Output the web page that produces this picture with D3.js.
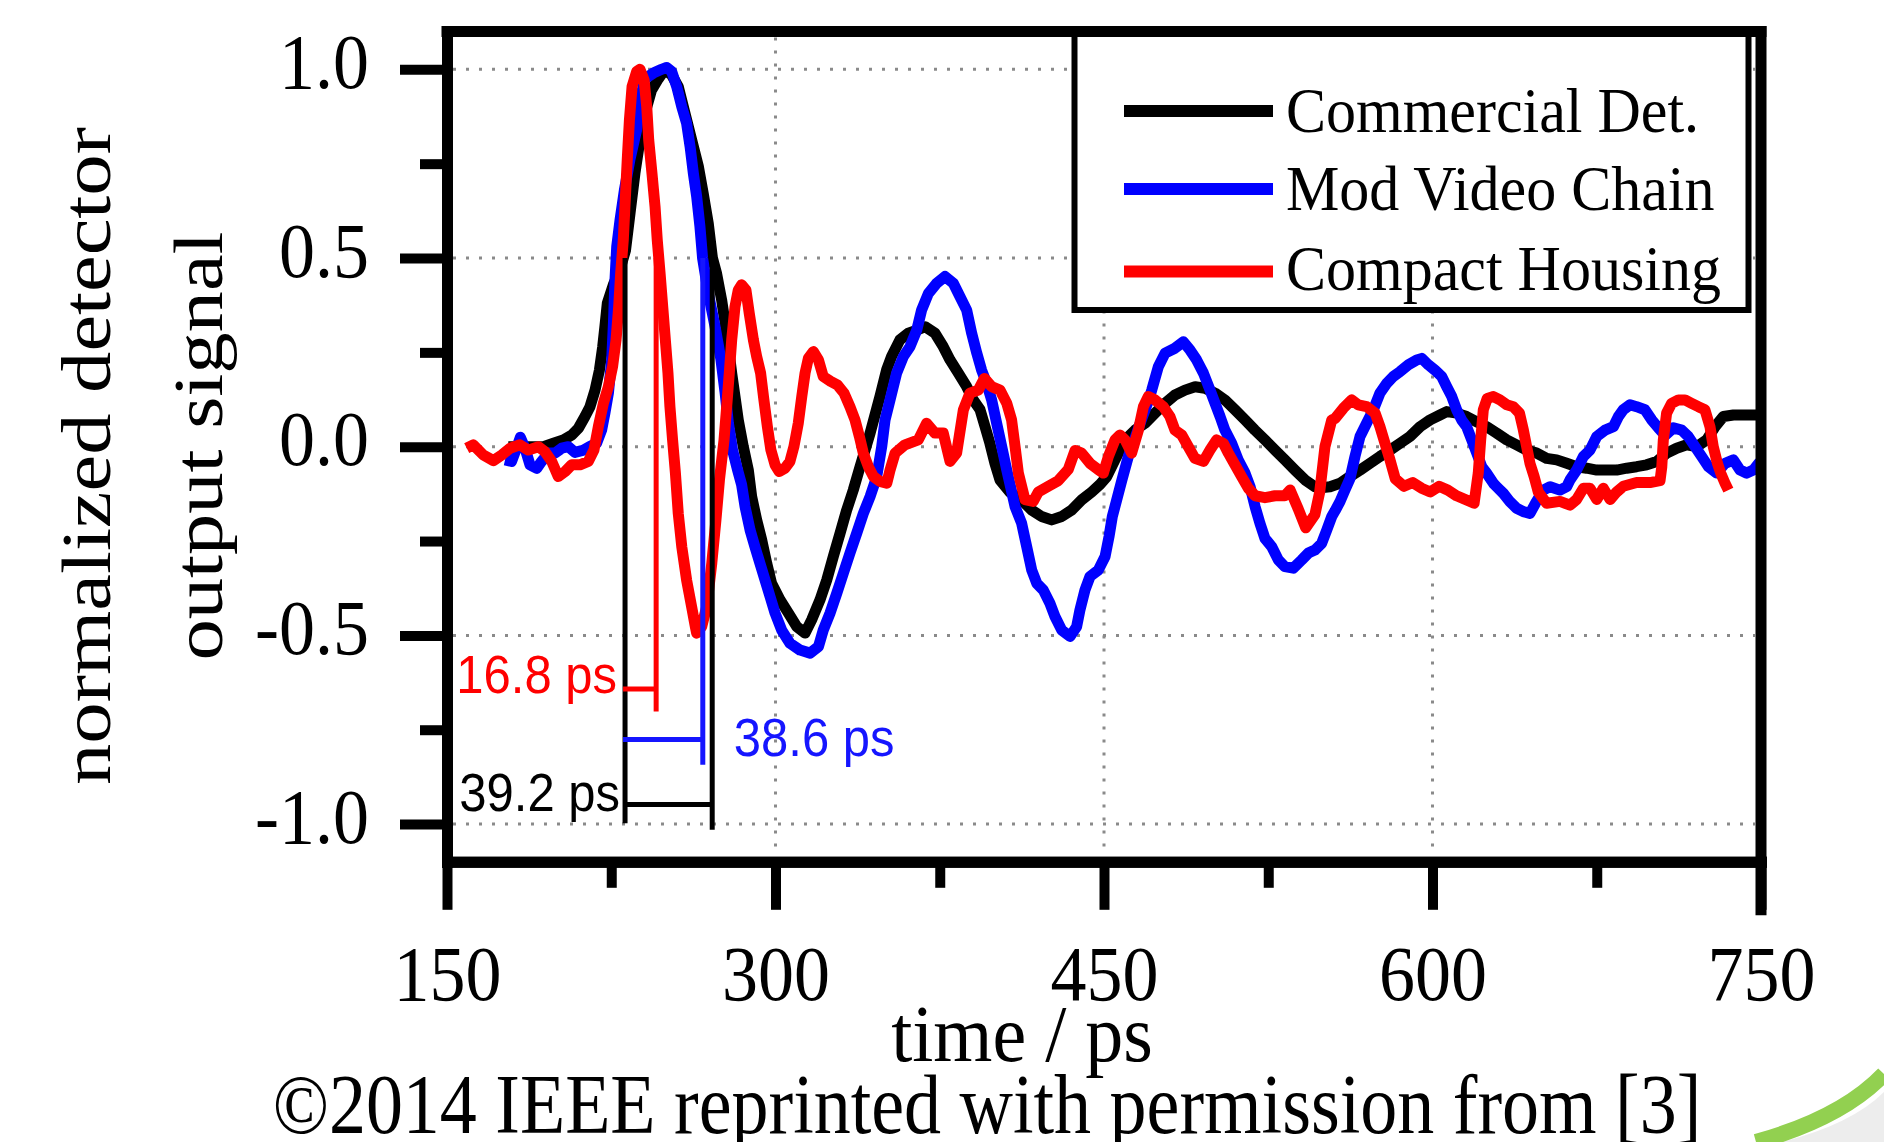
<!DOCTYPE html>
<html><head><meta charset="utf-8">
<script src="https://cdn.jsdelivr.net/npm/d3@7"></script>
<style>html,body{margin:0;padding:0;background:#fff;}svg{display:block;}</style>
</head><body>
<svg id="chart" width="1884" height="1142"></svg>
<script>
// ---------------- data (time in ps, normalized signal) ----------------
const commercialDet = [[178,0.0],[187,0.0],[194,0.0],[198.6,0.009],[203.1,0.018],[207,0.031],[210,0.049],[213,0.08],[215.3,0.106],[217.6,0.15],[219.6,0.203],[221.1,0.265],[222.1,0.318],[223.2,0.38],[226,0.43],[229,0.47],[231.5,0.52],[233.6,0.62],[235.8,0.724],[238.1,0.813],[240.4,0.883],[243.4,0.945],[246.5,0.975],[249.5,1.0],[252.6,0.985],[255.6,0.954],[257.9,0.901],[260.2,0.848],[262.5,0.795],[264.8,0.742],[267,0.671],[269.3,0.592],[271.2,0.5],[273.1,0.459],[275.4,0.389],[277,0.327],[278.5,0.265],[280,0.195],[281.5,0.133],[283,0.071],[285.3,0.0],[287.6,-0.062],[289.1,-0.132],[291.4,-0.194],[293.7,-0.247],[296,-0.309],[298.2,-0.362],[302.1,-0.406],[305.9,-0.441],[309.7,-0.477],[313.5,-0.494],[316.5,-0.459],[320.3,-0.406],[323.4,-0.353],[326.4,-0.291],[329.5,-0.229],[332.5,-0.168],[335.5,-0.115],[338.6,-0.053],[343.2,0.036],[347.7,0.133],[350.8,0.205],[353,0.239],[356.8,0.283],[360.7,0.301],[364.5,0.309],[368.3,0.318],[372.8,0.301],[376.6,0.265],[379.7,0.23],[383.5,0.195],[387.3,0.159],[390.3,0.124],[393.4,0.098],[395.7,0.053],[397.9,0.009],[400.2,-0.044],[402.5,-0.088],[407,-0.12],[413.9,-0.15],[417,-0.168],[421.5,-0.185],[426.1,-0.194],[430.7,-0.185],[435.2,-0.168],[439.8,-0.141],[444.4,-0.12],[448.2,-0.1],[451.2,-0.08],[455,-0.035],[459.6,0.018],[464.2,0.044],[468.7,0.062],[473.3,0.089],[477.9,0.115],[482.4,0.137],[487,0.15],[491.6,0.159],[496.1,0.155],[500.7,0.142],[505.2,0.124],[509.8,0.098],[514.4,0.071],[518.9,0.044],[523.5,0.018],[528.1,-0.009],[532.6,-0.035],[537.2,-0.062],[541.8,-0.088],[546.3,-0.106],[550,-0.108],[553.2,-0.106],[557.8,-0.097],[562.3,-0.079],[566.9,-0.062],[571.5,-0.044],[576,-0.026],[580.6,-0.009],[585.2,0.009],[589.7,0.027],[594.3,0.053],[598.9,0.071],[603.4,0.084],[606.5,0.093],[611,0.089],[615.6,0.08],[620.2,0.066],[624.7,0.053],[629.3,0.036],[633.9,0.018],[638.4,0.005],[643,-0.009],[647.6,-0.017],[652.1,-0.031],[656.7,-0.035],[661.3,-0.044],[665.8,-0.053],[670.4,-0.057],[675,-0.062],[679.5,-0.062],[684.1,-0.062],[688.7,-0.057],[693.2,-0.053],[697.8,-0.048],[702.4,-0.039],[707,-0.017],[711.5,-0.004],[716.1,0.005],[720.6,0.0],[725.2,0.018],[729,0.053],[732.8,0.08],[737.4,0.084],[742,0.084],[746.5,0.084],[750,0.084]];

const modVideoChain = [[176.5,-0.035],[179.5,-0.039],[182,0.0],[183.5,0.025],[185.6,-0.004],[187.9,-0.048],[191,-0.057],[193.2,-0.039],[196.3,-0.017],[199.3,-0.017],[202.4,-0.004],[205.4,0.0],[208.4,-0.015],[212,-0.01],[215,0.0],[218.3,0.009],[220.6,0.044],[222.1,0.089],[223.7,0.142],[225.2,0.23],[226,0.327],[226.7,0.442],[227.5,0.53],[229,0.6],[231,0.68],[233.5,0.76],[236.6,0.84],[238.1,0.919],[240.4,0.975],[244.2,0.99],[248,1.0],[250.3,1.005],[252.6,0.994],[254.9,0.954],[257.2,0.901],[259.4,0.857],[261,0.795],[262.5,0.724],[264,0.663],[265.5,0.583],[266.7,0.5],[269.3,0.407],[272.4,0.318],[275.1,0.23],[277,0.142],[278.5,0.062],[280.4,-0.009],[282.7,-0.062],[284.5,-0.1],[286.1,-0.159],[288.4,-0.221],[290.6,-0.265],[292.9,-0.309],[295.2,-0.353],[297.5,-0.397],[299.8,-0.441],[302.8,-0.486],[306.6,-0.521],[311.2,-0.539],[315.8,-0.547],[319.6,-0.53],[321.8,-0.486],[324.9,-0.441],[328,-0.388],[331,-0.335],[334,-0.282],[337.1,-0.229],[340.1,-0.177],[343.2,-0.132],[346.2,-0.08],[348.5,0.0],[350,0.07],[352.3,0.124],[355.3,0.195],[358.4,0.239],[361.4,0.265],[364.5,0.309],[366.7,0.362],[369.8,0.406],[373.6,0.433],[377.4,0.451],[381.2,0.433],[384.2,0.398],[387.3,0.362],[389.6,0.3],[391.9,0.248],[394.1,0.203],[396.4,0.168],[398.7,0.124],[401,0.062],[403.3,0.0],[405.6,-0.062],[407.5,-0.11],[409.4,-0.159],[412.4,-0.203],[414.7,-0.265],[417,-0.327],[419.3,-0.362],[422.3,-0.38],[425.3,-0.415],[427.6,-0.45],[430.7,-0.486],[434.5,-0.503],[437.5,-0.477],[439,-0.433],[441.3,-0.38],[443.6,-0.344],[447.4,-0.327],[450.5,-0.291],[452.3,-0.238],[453.8,-0.185],[455.8,-0.141],[458.1,-0.09],[461.1,-0.026],[464,0.02],[467,0.07],[470.2,0.12],[471.8,0.15],[474.8,0.212],[477.9,0.248],[482.4,0.261],[486.2,0.278],[489.3,0.256],[492.3,0.23],[495.4,0.195],[498.4,0.15],[500.7,0.115],[503,0.08],[505.2,0.044],[508.3,0.009],[511.3,-0.035],[514.4,-0.07],[516.7,-0.106],[519,-0.159],[521.2,-0.203],[523.5,-0.243],[526.6,-0.265],[529.6,-0.3],[532.6,-0.318],[536.4,-0.322],[540.3,-0.3],[543.3,-0.282],[546.3,-0.274],[549.4,-0.256],[551.7,-0.221],[554,-0.185],[555.5,-0.17],[557.8,-0.145],[560,-0.115],[562.3,-0.085],[564.6,-0.026],[566.9,0.027],[569.9,0.062],[573,0.098],[576,0.142],[579.1,0.168],[582.1,0.186],[585.2,0.199],[589,0.217],[592.8,0.23],[595.1,0.234],[598.1,0.217],[601.1,0.203],[604.2,0.186],[606.5,0.159],[608.8,0.133],[611,0.098],[613.3,0.071],[615.6,0.053],[617.9,0.018],[620.2,-0.017],[622.5,-0.053],[624.7,-0.07],[627.8,-0.097],[629.3,-0.106],[632.4,-0.124],[635.4,-0.146],[638.4,-0.163],[641.5,-0.172],[644.5,-0.177],[647,-0.15],[650.6,-0.115],[653.7,-0.106],[658.2,-0.115],[661.3,-0.106],[662.8,-0.088],[665.8,-0.062],[668.9,-0.026],[671.9,-0.009],[675,0.027],[678.8,0.044],[682.6,0.053],[684.9,0.08],[687.1,0.098],[690.2,0.111],[693.2,0.106],[697,0.098],[700.1,0.071],[703.1,0.05],[706.2,0.03],[710,0.05],[713.8,0.044],[716.8,0.027],[719.9,0.0],[722.9,-0.026],[726,-0.053],[729.8,-0.07],[733.6,-0.044],[737.4,-0.035],[740.4,-0.062],[743.5,-0.07],[746.5,-0.062],[749,-0.044],[750,-0.05]];

const compactHousing = [[159,-0.004],[162,0.005],[166.6,-0.022],[171.2,-0.037],[175,-0.022],[178.8,-0.004],[183.3,0.005],[187.1,-0.009],[191.7,0.0],[194.7,-0.013],[197.8,-0.039],[200.8,-0.079],[203.9,-0.066],[206.9,-0.048],[210.7,-0.048],[214.5,-0.039],[217.1,-0.009],[219.1,0.053],[221.4,0.115],[223.7,0.159],[225.6,0.212],[227.2,0.283],[228.4,0.371],[229.3,0.459],[230.5,0.548],[231.4,0.654],[232.3,0.76],[233.3,0.866],[234.5,0.954],[236.6,0.994],[238.1,1.0],[240,0.972],[241.2,0.901],[242.1,0.813],[243.6,0.724],[245,0.636],[246,0.548],[247.3,0.459],[248.5,0.371],[249.7,0.283],[250.9,0.195],[251.8,0.106],[253,0.018],[254.3,-0.07],[255.6,-0.177],[257.2,-0.265],[259.4,-0.353],[261.7,-0.424],[263.4,-0.477],[264,-0.494],[266.3,-0.477],[268.6,-0.424],[270.9,-0.309],[272.8,-0.194],[274.4,-0.088],[276.5,0.018],[277.7,0.106],[278.9,0.195],[280,0.283],[281.5,0.371],[283,0.415],[284.5,0.429],[286.5,0.415],[288,0.354],[289.9,0.283],[291.4,0.239],[293.2,0.195],[294.7,0.124],[296.3,0.053],[297.9,-0.009],[299.8,-0.048],[301.7,-0.066],[304.3,-0.057],[306.6,-0.039],[308.4,0.0],[310.4,0.062],[312,0.133],[313.5,0.195],[315,0.234],[317.3,0.252],[319.6,0.23],[321.8,0.186],[325.2,0.173],[328.2,0.164],[331.3,0.142],[334,0.106],[336.3,0.071],[338.3,0.027],[340.1,-0.017],[342.4,-0.053],[344.7,-0.079],[347.7,-0.092],[350.8,-0.097],[352.3,-0.062],[354.6,-0.017],[359.1,0.005],[365.2,0.018],[369,0.062],[372.8,0.036],[376.6,0.036],[379.7,-0.039],[382.7,-0.017],[385.8,0.098],[388.8,0.142],[392.6,0.15],[395.4,0.181],[398.7,0.159],[402.5,0.15],[405.6,0.115],[407.8,0.071],[409.4,0.0],[410.9,-0.07],[413.9,-0.14],[417.7,-0.145],[420,-0.12],[424.6,-0.105],[429.1,-0.09],[433.7,-0.06],[436.8,-0.01],[439.8,-0.017],[443.6,-0.044],[447.4,-0.061],[449.7,-0.07],[452,-0.026],[455,0.018],[457.3,0.031],[459.6,0.018],[462.6,-0.017],[465.7,0.044],[468,0.106],[470.2,0.133],[473.3,0.124],[477.1,0.106],[480.1,0.08],[482.4,0.044],[485.5,0.031],[488.5,0.0],[491.5,-0.031],[495.4,-0.039],[498.4,-0.009],[501.4,0.018],[504.5,0.009],[506.8,-0.017],[509.8,-0.048],[512.9,-0.08],[515.9,-0.11],[519,-0.13],[523.5,-0.135],[528.1,-0.13],[532.6,-0.13],[535,-0.115],[538.7,-0.165],[542.1,-0.215],[546.3,-0.18],[548.5,-0.12],[550.9,0.0],[554,0.071],[555.5,0.075],[559.3,0.102],[563.1,0.124],[566.1,0.111],[569.9,0.106],[573.8,0.089],[576,0.053],[578.3,0.009],[580.6,-0.035],[583,-0.085],[587,-0.105],[591,-0.095],[595,-0.11],[599,-0.12],[603,-0.105],[607,-0.115],[611,-0.13],[615,-0.14],[619,-0.15],[620.9,-0.07],[622,0.018],[623.2,0.098],[625,0.128],[627.8,0.133],[630.8,0.124],[633.9,0.111],[636.9,0.106],[639.7,0.089],[641.5,0.044],[643,0.0],[644.5,-0.044],[646.4,-0.079],[648.3,-0.12],[652.1,-0.15],[658.2,-0.145],[662.8,-0.155],[665.8,-0.14],[668.9,-0.11],[671.9,-0.11],[675,-0.14],[678,-0.11],[681.1,-0.14],[684.1,-0.12],[687.1,-0.105],[693.2,-0.095],[699.3,-0.095],[703.9,-0.09],[704.7,-0.053],[705.4,0.018],[706.9,0.089],[709.2,0.115],[712.3,0.124],[715.3,0.124],[718.3,0.115],[721.4,0.106],[724.4,0.098],[726.7,0.053],[728.2,0.0],[730.1,-0.044],[731.6,-0.07],[733.6,-0.097],[735.1,-0.115]];

const seriesNames  = ["Commercial Det.", "Mod Video Chain", "Compact Housing"];
const seriesColors = ["#000000", "#0000ff", "#ff0000"];
const seriesData   = [commercialDet, modVideoChain, compactHousing];

const xTicks = [150, 300, 450, 600, 750];
const xMinorTicks = [225, 375, 525, 675];
const yTicks = [-1.0, -0.5, 0.0, 0.5, 1.0];
const yTickLabels = ["-1.0", "-0.5", "0.0", "0.5", "1.0"];
const yMinorTicks = [-0.75, -0.25, 0.25, 0.75];

// FWHM markers: start time, end time, bar level, bottom of end line
const fwhmLabels = ["16.8 ps", "38.6 ps", "39.2 ps"];
const fwhmColors = ["#ff0000", "#1515ff", "#000000"];
const fwhmStart  = [231.3, 231.3, 231.3];
const fwhmEnd    = [245.5, 266.8, 271.1];
const fwhmBar    = [-0.642, -0.776, -0.948];
const fwhmBottom = [-0.702, -0.843, -1.015];
const fwhmTop = 0.5;

// ---------------- layout ----------------
const svg = d3.select("#chart");
const X = d3.scaleLinear().domain([150, 750]).range([447, 1761]);
const Y = d3.scaleLinear().domain([-1.1, 1.1]).range([861.8, 31.6]);
const serif = "'Liberation Serif','Times New Roman',Times,serif";
const sans = "'Liberation Sans',Arial,Helvetica,sans-serif";

svg.append("rect").attr("width", 1884).attr("height", 1142).attr("fill", "#fff");

// slide decoration (bottom-right corner)
svg.append("path").attr("d", "M1782,1142 Q1852,1124 1884,1092 L1884,1142 Z").attr("fill", "#ededed");
svg.append("path").attr("d", "M1756,1142 Q1842,1118 1884,1074").attr("fill", "none")
  .attr("stroke", "#92d050").attr("stroke-width", 16);

// grid
const grid = svg.append("g").attr("stroke", "#8a8a8a").attr("stroke-width", 3).attr("stroke-dasharray", "3,10");
grid.selectAll("line.h").data(yTicks).join("line")
  .attr("x1", X(150) + 6).attr("x2", X(750) - 6).attr("y1", d => Y(d)).attr("y2", d => Y(d));
grid.selectAll("line.v").data([300, 450, 600]).join("line")
  .attr("x1", d => X(d)).attr("x2", d => X(d)).attr("y1", Y(1.1) + 6).attr("y2", Y(-1.1) - 6);

// curves
svg.append("clipPath").attr("id", "plotclip").append("rect")
  .attr("x", X(150) + 5).attr("y", Y(1.1) + 5).attr("width", X(750) - X(150) - 10).attr("height", Y(-1.1) - Y(1.1) - 10);
const line = d3.line().x(d => X(d[0])).y(d => Y(d[1]));
const curves = svg.append("g").attr("clip-path", "url(#plotclip)");
seriesData.forEach((s, i) => {
  curves.append("path").datum(s).attr("d", line).attr("fill", "none")
    .attr("stroke", seriesColors[i]).attr("stroke-width", 11)
    .attr("stroke-linejoin", "round").attr("stroke-linecap", "butt");
});

// FWHM annotations
const ann = svg.append("g").attr("stroke-width", 5).attr("fill", "none");
ann.append("line").attr("stroke", "#000")
  .attr("x1", X(fwhmStart[2])).attr("x2", X(fwhmStart[2])).attr("y1", Y(fwhmTop)).attr("y2", Y(-0.998));
fwhmLabels.forEach((lab, i) => {
  ann.append("line").attr("stroke", fwhmColors[i])
    .attr("x1", X(fwhmEnd[i])).attr("x2", X(fwhmEnd[i])).attr("y1", Y(fwhmTop)).attr("y2", Y(fwhmBottom[i]));
  ann.append("line").attr("stroke", fwhmColors[i])
    .attr("x1", X(fwhmStart[i]) - 2).attr("x2", X(fwhmEnd[i])).attr("y1", Y(fwhmBar[i])).attr("y2", Y(fwhmBar[i]));
});
function stretchText(parent, x, y, sy, str) {
  return parent.append("text").attr("transform", `translate(${x},${y}) scale(1,${sy})`).text(str);
}
const annText = svg.append("g").attr("font-family", sans).attr("font-size", 49);
stretchText(annText, X(fwhmStart[0]) - 8, Y(fwhmBar[0]) + 4, 1.08, fwhmLabels[0]).attr("text-anchor", "end").attr("fill", fwhmColors[0]);
stretchText(annText, X(fwhmEnd[1]) + 31, Y(fwhmBar[1]) + 16, 1.08, fwhmLabels[1]).attr("text-anchor", "start").attr("fill", fwhmColors[1]);
stretchText(annText, X(fwhmStart[2]) - 5, Y(fwhmBar[2]) + 7, 1.08, fwhmLabels[2]).attr("text-anchor", "end").attr("fill", fwhmColors[2]);

// axes
const xAxis = svg.append("g").attr("transform", `translate(0,${Y(-1.1)})`)
  .call(d3.axisBottom(X).tickValues(xTicks).tickSize(48).tickSizeOuter(0).tickFormat(d3.format("d")));
const xMinor = svg.append("g").attr("transform", `translate(0,${Y(-1.1)})`)
  .call(d3.axisBottom(X).tickValues(xMinorTicks).tickSize(26).tickSizeOuter(0).tickFormat(""));
const yAxis = svg.append("g").attr("transform", `translate(${X(150)},0)`)
  .call(d3.axisLeft(Y).tickValues(yTicks).tickSize(47).tickSizeOuter(0).tickFormat((d, i) => yTickLabels[i]));
const yMinor = svg.append("g").attr("transform", `translate(${X(150)},0)`)
  .call(d3.axisLeft(Y).tickValues(yMinorTicks).tickSize(27).tickSizeOuter(0).tickFormat(""));
[xAxis, xMinor, yAxis, yMinor].forEach(g => {
  g.selectAll(".tick line").attr("stroke", "#000").attr("stroke-width", 10);
  g.select(".domain").attr("stroke", "#000").attr("stroke-width", 11).attr("stroke-linecap", "square");
});
xAxis.selectAll(".tick text").attr("y", null).attr("dy", null)
  .attr("transform", "translate(0,138) scale(1,1.1)")
  .attr("font-family", serif).attr("font-size", 72).attr("fill", "#000").attr("text-anchor", "middle");
yAxis.selectAll(".tick text").attr("x", null).attr("dy", null)
  .attr("transform", "translate(-78,18) scale(1,1.1)")
  .attr("font-family", serif).attr("font-size", 72).attr("fill", "#000").attr("text-anchor", "end");

// remaining frame: top and right
const frame = svg.append("g").attr("stroke", "#000").attr("stroke-width", 11).attr("stroke-linecap", "square");
frame.append("line").attr("x1", X(150)).attr("x2", X(750)).attr("y1", Y(1.1)).attr("y2", Y(1.1));
frame.append("line").attr("x1", X(750)).attr("x2", X(750)).attr("y1", Y(1.1)).attr("y2", Y(-1.1) + 48);

// legend
const leg = svg.append("g");
leg.append("rect").attr("x", 1074.5).attr("y", Y(1.1)).attr("width", 674).attr("height", 310 - Y(1.1))
  .attr("fill", "#fff").attr("stroke", "#000").attr("stroke-width", 6);
const legLineY = [111, 189, 271.5];
const legTextY = [132, 210, 290];
seriesNames.forEach((n, i) => {
  leg.append("line").attr("x1", 1124).attr("x2", 1273).attr("y1", legLineY[i]).attr("y2", legLineY[i])
    .attr("stroke", seriesColors[i]).attr("stroke-width", 12);
  stretchText(leg, 1286, legTextY[i], 1.06, n).attr("font-family", serif).attr("font-size", 60).attr("fill", "#000");
});
frame.raise();

// axis titles
stretchText(svg, 1022, 1061, 1.05, "time / ps").attr("font-family", serif).attr("font-size", 76)
  .attr("text-anchor", "middle").attr("fill", "#000");
svg.append("text").attr("transform", "translate(110,456) scale(1,1.18) rotate(-90)")
  .attr("font-family", serif).attr("font-size", 70).attr("text-anchor", "middle").attr("fill", "#000")
  .text("normalized detector");
svg.append("text").attr("transform", "translate(222,446) scale(1,1.18) rotate(-90)")
  .attr("font-family", serif).attr("font-size", 70).attr("text-anchor", "middle").attr("fill", "#000")
  .text("output signal");

// credit line
stretchText(svg, 987, 1133, 1.14, "©2014 IEEE reprinted with permission from [3]")
  .attr("font-family", serif).attr("font-size", 74).attr("text-anchor", "middle").attr("fill", "#000");
</script>
</body></html>
